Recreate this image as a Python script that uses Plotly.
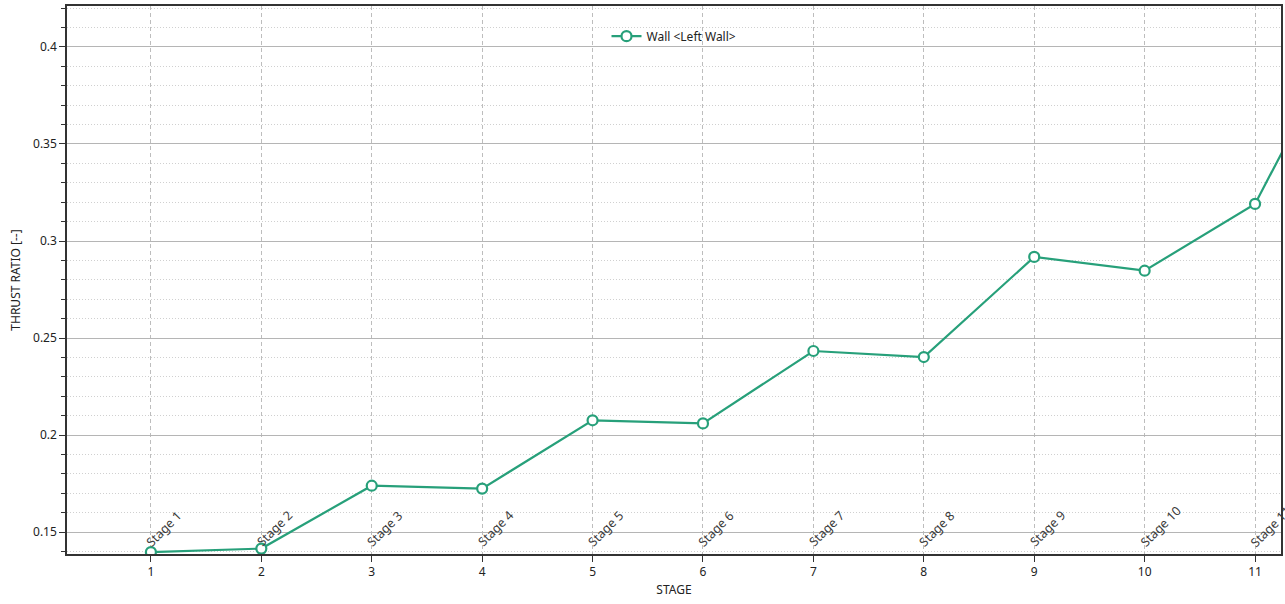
import plotly.graph_objects as go

# Thrust ratio of the left wall at each construction stage
stages = [1, 2, 3, 4, 5, 6, 7, 8, 9, 10, 11, 12]
stage_labels = ["Stage %d" % s for s in stages]
thrust_ratio = [0.1397, 0.1415, 0.1739, 0.1724, 0.2076, 0.2060,
                0.2433, 0.2402, 0.2918, 0.2847, 0.3191, 0.428]

GREEN = "#27a07a"
FONT = "Noto Sans"

fig = go.Figure()
fig.add_trace(go.Scatter(
    x=stages, y=thrust_ratio, mode="lines+markers",
    name="Wall <Left Wall>",
    line=dict(color=GREEN, width=2.2),
    marker=dict(symbol="circle", size=10, color="white",
                line=dict(color=GREEN, width=2.2)),
    cliponaxis=True,
))

# Stage names written diagonally along the bottom of the plot
annotations = []
for s, lab in zip(stages, stage_labels):
    annotations.append(dict(
        x=s, y=0, xref="x", yref="paper", text=lab, showarrow=False,
        textangle=-45, xanchor="left", yanchor="bottom",
        xshift=-11, yshift=1,
        font=dict(family=FONT, size=12.5, color="#3a3a3a"),
    ))

fig.update_layout(
    width=1285, height=604,
    margin=dict(l=67, r=2, t=6, b=50),
    paper_bgcolor="white", plot_bgcolor="white",
    font=dict(family=FONT, size=12, color="#222222"),
    showlegend=True,
    legend=dict(orientation="h", x=0.5, xanchor="center", y=0.945,
                yanchor="middle", bgcolor="rgba(0,0,0,0)",
                font=dict(family=FONT, size=12, color="#222222")),
    annotations=annotations,
    xaxis=dict(
        range=[0.24, 11.235], tick0=0, dtick=1,
        showgrid=True, gridcolor="#bdbdbd", griddash="4px,3px", gridwidth=1,
        zeroline=False,
        showline=True, linecolor="#333333", linewidth=1.5, mirror=True,
        ticks="outside", ticklen=6, tickcolor="#333333",
        title=dict(text="STAGE", standoff=6,
                   font=dict(family=FONT, size=12, color="#222222")),
    ),
    yaxis=dict(
        range=[0.1387, 0.4211], tick0=0, dtick=0.05,
        showgrid=True, gridcolor="#b5b5b5", gridwidth=1,
        zeroline=False,
        showline=True, linecolor="#333333", linewidth=1.5, mirror=True,
        ticks="outside", ticklen=6, tickcolor="#333333",
        minor=dict(dtick=0.01, tick0=0, ticks="outside", ticklen=4,
                   tickcolor="#333333", showgrid=True,
                   gridcolor="#d0d0d0", griddash="1px,2px", gridwidth=1),
        title=dict(text="THRUST RATIO [--]", standoff=10,
                   font=dict(family=FONT, size=12, color="#222222")),
    ),
)

fig.write_html("out.html")
